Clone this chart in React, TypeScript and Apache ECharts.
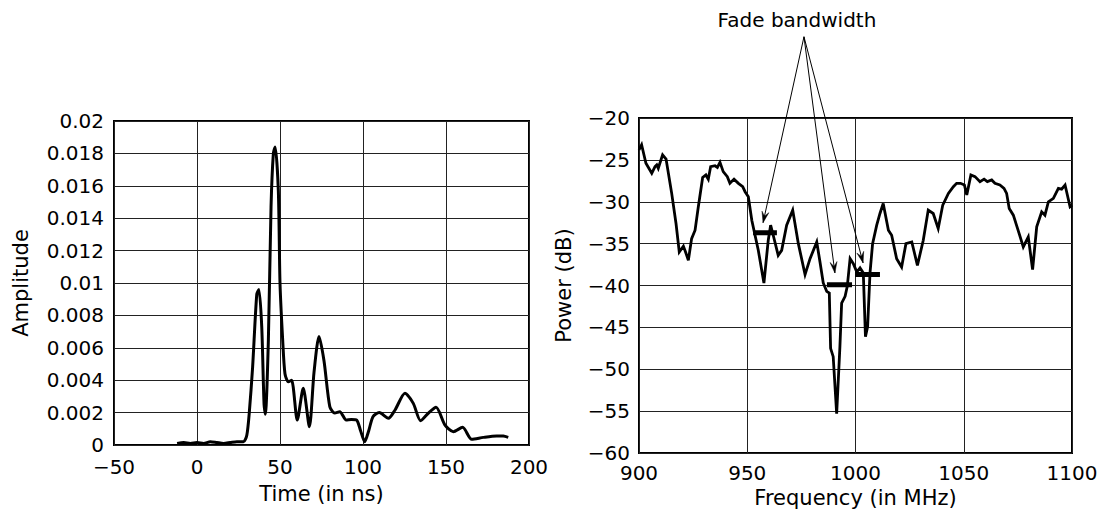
import React, { useEffect, useRef } from "react";
import * as echarts from "echarts";

// ---------- Left chart: impulse response ----------
const timeNs = [
  -12, -8, -4, 0, 4, 8, 12, 16, 20, 24, 28, 30, 31.5, 33.5, 36, 37.3, 39, 40.4, 41.2, 43,
  44.6, 46, 47.1, 49, 50, 51.6, 53, 55, 57, 60.4, 64, 67.7, 70.5, 73.5, 76.5, 80, 83, 86,
  89.9, 93, 96.2, 98.5, 101, 103.5, 106, 109.8, 115.3, 119.3, 125.3, 130.3, 134.7, 139.3,
  144, 149.4, 154.4, 160, 165.5, 172.5, 180.5, 184.5, 187.5,
];
const amplitude = [
  0.0001, 0.00015, 0.0001, 0.00015, 0.0001, 0.0002, 0.00015, 0.0001, 0.00015, 0.0002,
  0.0002, 0.0006, 0.002, 0.0048, 0.0093, 0.0096, 0.0073, 0.0025, 0.0019, 0.0065, 0.0147,
  0.018, 0.0184, 0.0157, 0.01, 0.0065, 0.0044, 0.0039, 0.004, 0.00154, 0.0035, 0.00113,
  0.0045, 0.0067, 0.0052, 0.00237, 0.00197, 0.00206, 0.00154, 0.00158, 0.00154, 0.0009,
  0.0002, 0.0009, 0.00175, 0.002, 0.00165, 0.00216, 0.0032, 0.00257, 0.0015, 0.00196,
  0.00233, 0.00123, 0.00082, 0.00109, 0.00035, 0.00047, 0.00056, 0.00055, 0.00047,
];
const timeTicks = [-50, 0, 50, 100, 150, 200];
const amplitudeTicks = [0, 0.002, 0.004, 0.006, 0.008, 0.01, 0.012, 0.014, 0.016, 0.018, 0.02];

// ---------- Right chart: frequency response ----------
const freqMHz = [
  900, 901.2, 903.2, 905.9, 907.4, 908.2, 908.9, 910.9, 912.5, 915.1, 917.1, 918.6, 920.5,
  921.5, 922.8, 924.3, 925.9, 927.4, 929.4, 930.9, 932, 933.1, 935.1, 936.2, 937.4, 938.9,
  940.8, 942, 943.9, 945.9, 947.9, 949, 950.5, 952.1, 953.1, 955.1, 957.7, 959.7, 960.8,
  962, 964.3, 965.9, 968.2, 971, 973.6, 976.7, 979, 982.1, 983.6, 985.1, 986.7, 987.9,
  988.5, 989.7, 991.3, 992.8, 993.6, 995.2, 996.2, 997.5, 999, 1000.6, 1002.1, 1003.6,
  1004.6, 1005.6, 1006.7, 1007.9, 1009.8, 1011.3, 1012.8, 1015.2, 1016.7, 1019, 1021.3,
  1023.3, 1026, 1028.6, 1031.3, 1033.6, 1035.9, 1038.2, 1040.3, 1042.9, 1045.2, 1046.7,
  1048.5, 1050.3, 1051.4, 1053.3, 1055.2, 1057.5, 1059.4, 1060.9, 1062.9, 1064.4, 1066.7,
  1068.6, 1069.8, 1071, 1072.9, 1075.6, 1077.5, 1079.8, 1081.8, 1083.7, 1086, 1087.5,
  1089.1, 1091.4, 1093.7, 1095.2, 1096.8, 1099.1, 1100,
];
const powerDb = [
  -23.8, -23.2, -25.4, -26.6, -25.8, -25.6, -26.0, -24.4, -24.9, -29.0, -32.6, -36.0, -35.3,
  -36.0, -37.0, -34.4, -33.4, -30.6, -27.1, -26.8, -27.3, -25.8, -25.7, -25.9, -25.3, -26.4,
  -27.0, -27.8, -27.3, -27.8, -28.2, -28.8, -29.4, -32.2, -33.4, -35.8, -39.7, -34.6, -32.8,
  -34.0, -36.4, -35.8, -32.8, -31.0, -35.0, -38.7, -36.8, -34.8, -37.2, -39.7, -40.7, -40.9,
  -47.5, -48.5, -55.3, -47.3, -42.1, -41.3, -40.1, -36.8, -37.4, -38.4, -37.9, -38.5,
  -46.1, -44.9, -38.5, -35.0, -32.8, -31.4, -30.2, -33.4, -34.0, -36.8, -37.8,
  -35.0, -34.8, -37.6, -34.6, -31.0, -31.4, -33.2, -30.4, -29.0, -28.2, -27.8,
  -27.8, -28.0, -29.2, -26.8, -27.0, -27.6, -27.3, -27.6, -27.4, -27.8, -28.0,
  -28.4, -29.0, -30.8, -31.6, -33.8, -35.4, -34.2, -38.1, -33.0, -31.2, -31.6,
  -30.0, -29.6, -28.4, -28.5, -28.0, -30.6, -30.4,
];
const freqTicks = [900, 950, 1000, 1050, 1100];
const powerTicks = [-60, -55, -50, -45, -40, -35, -30, -25, -20];

// Fade bandwidth markers
const fadeFrom = [952.7, 986.8, 999.8];
const fadeTo = [963.7, 998.4, 1011.3];
const fadeLevel = [-33.7, -39.9, -38.7];
// Annotation arrows (data coordinates of the right chart)
const arrowOrigin = [976.2, -10.3];
const arrowTipF = [957.3, 990.5, 1003.5];
const arrowTipDb = [-32.5, -38.5, -37.3];
const annotationText = "Fade bandwidth";

const FONT = "DejaVu Sans";
const fmt = (v: number) => Number(v.toFixed(4)).toString().replace("-", "\u2212");

export default function App() {
  const ref = useRef<HTMLDivElement>(null);
  useEffect(() => {
    if (!ref.current) return;
    const chart = echarts.init(ref.current, undefined, { renderer: "svg" });
    const splitLine = { show: true, lineStyle: { color: "#222", width: 1 } };
    const axisLabel = (ticks: number[], margin: number) => ({
      color: "#000",
      fontFamily: FONT,
      fontSize: 20,
      margin,
      formatter: (v: number) => (ticks.some((t) => Math.abs(t - v) < 1e-9) ? fmt(v) : ""),
    });
    const nameStyle = { color: "#000", fontFamily: FONT, fontSize: 21 };
    const fadeSeries = fadeFrom.map((f, i) => ({
      type: "line",
      xAxisIndex: 1,
      yAxisIndex: 1,
      symbol: "none",
      lineStyle: { color: "#000", width: 5 },
      data: [
        [f, fadeLevel[i]],
        [fadeTo[i], fadeLevel[i]],
      ],
      z: 4,
    }));
    chart.setOption({
      animation: false,
      backgroundColor: "#fff",
      grid: [
        { left: 114, top: 121, width: 415, height: 324, show: true, borderColor: "#000", borderWidth: 2 },
        { left: 639, top: 118, width: 433, height: 335, show: true, borderColor: "#000", borderWidth: 2 },
      ],
      xAxis: [
        {
          type: "value", gridIndex: 0, min: -50, max: 200, interval: 50,
          name: "Time (in ns)", nameLocation: "middle", nameGap: 38, nameTextStyle: nameStyle,
          axisLine: { show: false }, axisTick: { show: false },
          axisLabel: axisLabel(timeTicks, 12), splitLine,
        },
        {
          type: "value", gridIndex: 1, min: 900, max: 1100, interval: 50,
          name: "Frequency (in MHz)", nameLocation: "middle", nameGap: 34, nameTextStyle: nameStyle,
          axisLine: { show: false }, axisTick: { show: false },
          axisLabel: axisLabel(freqTicks, 10), splitLine,
        },
      ],
      yAxis: [
        {
          type: "value", gridIndex: 0, min: 0, max: 0.02, interval: 0.002,
          name: "Amplitude", nameLocation: "middle", nameGap: 83, nameRotate: 90, nameTextStyle: nameStyle,
          axisLine: { show: false }, axisTick: { show: false },
          axisLabel: axisLabel(amplitudeTicks, 10), splitLine,
        },
        {
          type: "value", gridIndex: 1, min: -60, max: -20, interval: 5,
          name: "Power (dB)", nameLocation: "middle", nameGap: 65, nameRotate: 90, nameTextStyle: nameStyle,
          axisLine: { show: false }, axisTick: { show: false },
          axisLabel: axisLabel(powerTicks, 9), splitLine,
        },
      ],
      series: [
        {
          type: "line", xAxisIndex: 0, yAxisIndex: 0, symbol: "none", smooth: 0.25,
          lineStyle: { color: "#000", width: 3 },
          data: timeNs.map((t, i) => [t, amplitude[i]]),
        },
        {
          type: "line", xAxisIndex: 1, yAxisIndex: 1, symbol: "none",
          lineStyle: { color: "#000", width: 2.8, join: "miter" },
          data: freqMHz.map((f, i) => [f, powerDb[i]]),
        },
        ...fadeSeries,
      ],
    });

    // Annotation arrows, placed through the right chart's scales
    const o = chart.convertToPixel({ gridIndex: 1 }, arrowOrigin) as number[];
    const graphics: any[] = [
      {
        type: "text",
        x: o[0] - 7,
        y: o[1] - 17,
        style: {
          text: annotationText, fill: "#000", font: `20px '${FONT}'`,
          align: "center", verticalAlign: "middle",
        },
      },
    ];
    arrowTipF.forEach((f, i) => {
      const p = chart.convertToPixel({ gridIndex: 1 }, [f, arrowTipDb[i]]) as number[];
      const dx = p[0] - o[0];
      const dy = p[1] - o[1];
      const len = Math.sqrt(dx * dx + dy * dy);
      const ux = dx / len, uy = dy / len;
      const hl = 11, hw = 3.5;
      const bx = p[0] - ux * hl, by = p[1] - uy * hl;
      graphics.push({
        type: "line",
        shape: { x1: o[0], y1: o[1], x2: p[0], y2: p[1] },
        style: { stroke: "#000", lineWidth: 1 },
        z: 10,
      });
      graphics.push({
        type: "polygon",
        shape: {
          points: [
            [bx - uy * hw, by + ux * hw],
            [p[0], p[1]],
            [bx + uy * hw, by - ux * hw],
            [p[0] - ux * hl * 0.6, p[1] - uy * hl * 0.6],
          ],
        },
        style: { fill: "#000", stroke: "#000", lineWidth: 0.5 },
        z: 10,
      });
    });
    chart.setOption({ graphic: graphics });

    return () => chart.dispose();
  }, []);
  return (
    <div
      ref={ref}
      style={{ position: "fixed", left: 0, top: 0, width: 1104, height: 516, background: "#fff" }}
    />
  );
}
